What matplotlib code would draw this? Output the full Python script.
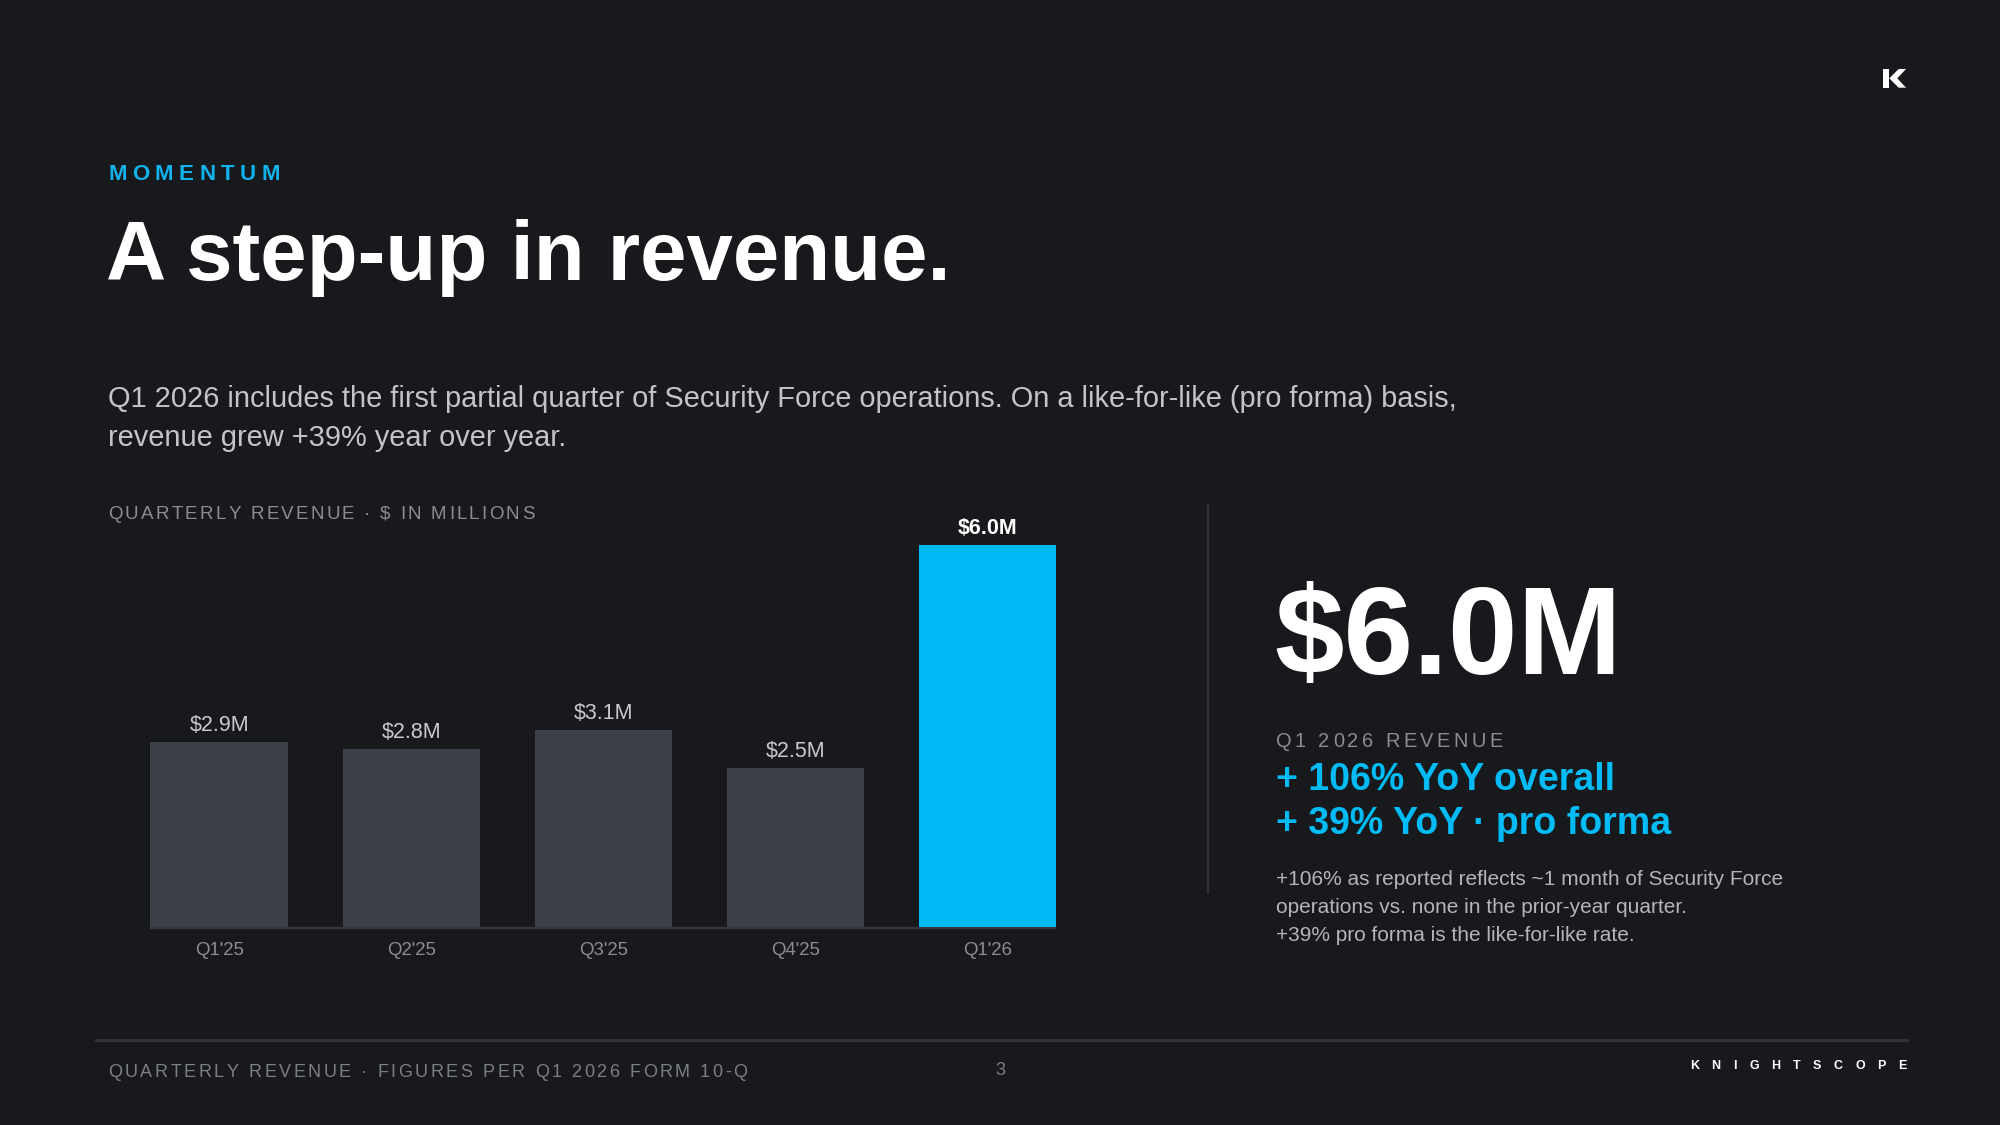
import matplotlib
matplotlib.use("Agg")
import matplotlib.pyplot as plt
from matplotlib.font_manager import FontProperties, findfont, get_font
from matplotlib.lines import Line2D
from matplotlib.patches import Polygon

# ---------------- data ----------------
quarters = ["Q1'25", "Q2'25", "Q3'25", "Q4'25", "Q1'26"]
revenue_m = [2.9, 2.8, 3.1, 2.5, 6.0]
bar_labels = ["$2.9M", "$2.8M", "$3.1M", "$2.5M", "$6.0M"]
highlight = "Q1'26"

eyebrow = "MOMENTUM"
title = "A step-up in revenue."
subtitle = ["Q1 2026 includes the first partial quarter of Security Force operations. On a like-for-like (pro forma) basis,",
            "revenue grew +39% year over year."]
chart_label = "QUARTERLY REVENUE · $ IN MILLIONS"
kpi_value = "$6.0M"
kpi_label = "Q1 2026 REVENUE"
kpi_lines = ["+ 106% YoY overall", "+ 39% YoY · pro forma"]
notes = ["+106% as reported reflects ~1 month of Security Force",
         "operations vs. none in the prior-year quarter.",
         "+39% pro forma is the like-for-like rate."]
footer_left = "QUARTERLY REVENUE · FIGURES PER Q1 2026 FORM 10-Q"
page_no = "3"
brand = "KNIGHTSCOPE"

# ---------------- style ----------------
W, H = 2000, 1125
BG = "#18191c"
BAR_GRAY = "#3e4049"
BLUE = "#00bbf5"
EYEBROW_BLUE = "#10b3ec"
WHITE = "#ffffff"
SUB = "#c2c4ca"
MUTED = "#8b8d93"
NOTE = "#b3b5bb"
LABEL = "#c8cad0"
LINE = "#303237"
FAM = ["Liberation Sans", "DejaVu Sans"]

fig = plt.figure(figsize=(W / 100, H / 100), dpi=100, facecolor=BG)


def fx(x):
    return x / W


def fy(y):
    return 1 - y / H


def txt(x, y, s, size, color, weight="normal", ha="left"):
    return fig.text(fx(x), fy(y), s, fontsize=size, color=color, fontweight=weight,
                    ha=ha, va="baseline", family=FAM)


def tracked(x, y, s, size, color, track_px, weight="normal"):
    prop = FontProperties(family="Liberation Sans", weight=weight, size=size)
    font = get_font(findfont(prop))
    font.set_size(size, 100)
    cx = x
    for ch in s:
        if ch != " ":
            txt(cx, y, ch, size, color, weight)
        g = font.load_char(ord(ch))
        cx += g.linearHoriAdvance / 65536 + track_px


# ---------------- header ----------------
tracked(108, 180, eyebrow, 16, EYEBROW_BLUE, 5.5, weight="bold")
txt(106, 280, title, 60, WHITE, weight="bold")
txt(108, 406.7, subtitle[0], 20.9, SUB)
txt(108, 446.5, subtitle[1], 20.9, SUB)

# logo (K mark)
def lp(pts):
    return [(fx(x), fy(y)) for x, y in pts]

fig.patches.append(Polygon(lp([(1883.3, 69), (1888.7, 69), (1888.7, 87.7), (1883.3, 87.7)]),
                           closed=True, facecolor=WHITE, edgecolor="none", transform=fig.transFigure))
fig.patches.append(Polygon(lp([(1898.7, 69), (1906, 69), (1897.3, 78.3), (1906, 87.7),
                               (1898.7, 87.7), (1889.3, 78.3)]),
                           closed=True, facecolor=WHITE, edgecolor="none", transform=fig.transFigure))

# ---------------- chart ----------------
tracked(108, 519, chart_label, 13.5, MUTED, 2.25)

base_px, top_px = 927.3, 500
ax = fig.add_axes([fx(100), fy(base_px), fx(1100) - fx(100), (base_px - top_px) / H])
ax.set_facecolor("none")
ax.set_xlim(-0.622, 4.586)
ax.set_ylim(0, 6.699)
ax.axis("off")

colors = [BLUE if q == highlight else BAR_GRAY for q in quarters]
x = list(range(len(quarters)))
ax.bar(x, revenue_m, width=0.718, color=colors, zorder=2)
ax.plot([-0.359, len(quarters) - 1 + 0.359], [-0.012, -0.012], color="#35373d", lw=1.6,
        solid_capstyle="butt", zorder=1, clip_on=False)

for i, (q, v, lab) in enumerate(zip(quarters, revenue_m, bar_labels)):
    hl = q == highlight
    ax.annotate(lab, xy=(i, v), xytext=(0, 11), textcoords="offset pixels",
                ha="center", va="baseline", fontsize=15.5,
                color=WHITE if hl else LABEL, fontweight="bold" if hl else "normal",
                family=FAM, annotation_clip=False)
    ax.annotate(q, xy=(i, 0), xytext=(0, -28), textcoords="offset pixels",
                ha="center", va="baseline", fontsize=13.4, color=MUTED,
                family=FAM, annotation_clip=False)

# divider
fig.lines.append(Line2D([fx(1208), fx(1208)], [fy(504), fy(893)], color=LINE, lw=1.5,
                        transform=fig.transFigure))

# ---------------- KPI panel ----------------
txt(1274, 674, kpi_value, 90, WHITE, weight="bold")
tracked(1276, 746.7, kpi_label, 14.4, MUTED, 3.4)
txt(1276, 790, kpi_lines[0], 27, BLUE, weight="bold")
txt(1276, 834, kpi_lines[1], 27, BLUE, weight="bold")
for k, line in enumerate(notes):
    txt(1276, 885 + 28 * k, line, 15, NOTE)

# ---------------- footer ----------------
fig.lines.append(Line2D([fx(96), fx(1907)], [fy(1040), fy(1040)], color=LINE, lw=2.2,
                        transform=fig.transFigure))
tracked(108, 1077, footer_left, 13, "#7d7f86", 2.55)
txt(1000, 1075, page_no, 13, "#7d7f86", ha="center")
tracked(1690, 1069, brand, 9, WHITE, 12.5, weight="bold")

fig.savefig("out.png", dpi=100, facecolor=BG)
